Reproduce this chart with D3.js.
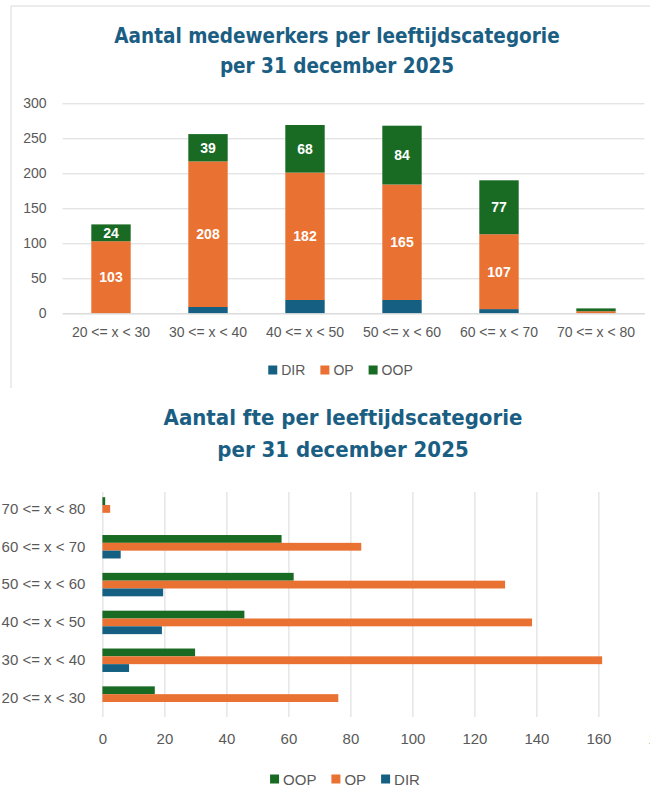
<!DOCTYPE html>
<html>
<head>
<meta charset="utf-8">
<script src="https://cdn.jsdelivr.net/npm/d3@7"></script>
<style>
  body { margin: 0; background: #fff; }
  .title { font-family: "DejaVu Sans Condensed", "DejaVu Sans", sans-serif; font-stretch: condensed; font-weight: bold; fill: #1b5e83; }
  .tick text, .lbl { font-family: "Liberation Sans", Arial, sans-serif; fill: #595959; }
  .value { font-family: "Liberation Sans", Arial, sans-serif; font-weight: bold; fill: #fff; font-size: 14px; }
</style>
</head>
<body>
<div id="container"></div>
<script>
// data
var categories = ["20 <= x < 30", "30 <= x < 40", "40 <= x < 50", "50 <= x < 60", "60 <= x < 70", "70 <= x < 80"];
var stackKeys = ["DIR", "OP", "OOP"];
var groupKeys = ["OOP", "OP", "DIR"];

// aantal medewerkers
var medewerkersDIR = [0, 9, 19, 19, 6, 0];
var medewerkersOP  = [103, 208, 182, 165, 107, 3];
var medewerkersOOP = [24, 39, 68, 84, 77, 4];

// aantal fte
var fteDIR = [0, 8.6, 19.2, 19.6, 5.9, 0];
var fteOP  = [76.1, 161.2, 138.6, 129.9, 83.5, 2.5];
var fteOOP = [16.9, 29.9, 45.8, 61.7, 57.8, 0.9];

var yTicksTop = [0, 50, 100, 150, 200, 250, 300];
var xTicksBottom = [0, 20, 40, 60, 80, 100, 120, 140, 160, 180];

var colors = { DIR: "#156082", OP: "#e97132", OOP: "#196b24" };
var gridColor = "#d9d9d9";

var svg = d3.select("#container")
  .append("svg")
    .attr("width", 650)
    .attr("height", 789);

// ---------- chart 1: stacked columns ----------
var top1 = { left: 62.5, right: 644.5, y0: 313.3, y1: 103.3 };

var rows1 = categories.map(function(c, i) {
  return { cat: c, DIR: medewerkersDIR[i], OP: medewerkersOP[i], OOP: medewerkersOOP[i] };
});

// chart border
svg.append("path")
  .attr("d", "M11,388V6H650")
  .attr("fill", "none")
  .attr("stroke", gridColor)
  .attr("stroke-width", 1);

var title1 = svg.append("text")
  .attr("class", "title")
  .attr("text-anchor", "middle")
  .style("font-size", "20.5px");
title1.append("tspan").attr("x", 337).attr("y", 43).text("Aantal medewerkers per leeftijdscategorie");
title1.append("tspan").attr("x", 337).attr("y", 73).text("per 31 december 2025");

var x1 = d3.scaleBand()
  .domain(categories)
  .range([top1.left, top1.right])
  .paddingInner(0.594)
  .paddingOuter(0.297);

var y1 = d3.scaleLinear()
  .domain([0, 300])
  .range([top1.y0, top1.y1]);

// gridlines + y labels
var yAxis1 = svg.append("g")
  .attr("transform", "translate(" + top1.left + ",0)")
  .call(d3.axisLeft(y1).tickValues(yTicksTop).tickSize(-(top1.right - top1.left)).tickPadding(16));
yAxis1.select(".domain").remove();
yAxis1.selectAll("line").attr("stroke", gridColor);
yAxis1.selectAll("text").style("font-size", "14px");

var stacked = d3.stack().keys(stackKeys)(rows1);

svg.append("g")
  .selectAll("g")
  .data(stacked)
  .enter().append("g")
    .attr("fill", function(d) { return colors[d.key]; })
  .selectAll("rect")
  .data(function(d) { return d; })
  .enter().append("rect")
    .attr("x", function(d) { return x1(d.data.cat); })
    .attr("y", function(d) { return y1(d[1]); })
    .attr("height", function(d) { return y1(d[0]) - y1(d[1]); })
    .attr("width", x1.bandwidth());

// data labels (OP and OOP only)
stacked.filter(function(s) { return s.key != "DIR"; }).forEach(function(s) {
  svg.append("g")
    .selectAll("text")
    .data(s.filter(function(d) { return d[1] - d[0] >= 10; }))
    .enter().append("text")
      .attr("class", "value")
      .attr("text-anchor", "middle")
      .attr("dominant-baseline", "central")
      .attr("x", function(d) { return x1(d.data.cat) + x1.bandwidth() / 2; })
      .attr("y", function(d) { return (y1(d[0]) + y1(d[1])) / 2; })
      .text(function(d) { return d[1] - d[0]; });
});

// x axis
var xAxis1 = svg.append("g")
  .attr("transform", "translate(0," + top1.y0 + ")")
  .call(d3.axisBottom(x1).tickSize(0).tickPadding(14));
xAxis1.select(".domain").attr("stroke", gridColor);
xAxis1.selectAll("text").style("font-size", "14px");

// legend helper
function legend(keys, cx, cy, fontSize) {
  var g = svg.append("g");
  var pos = 0;
  keys.forEach(function(k) {
    g.append("rect")
      .attr("x", pos).attr("y", cy - 4.5)
      .attr("width", 9).attr("height", 9)
      .attr("fill", colors[k]);
    var t = g.append("text")
      .attr("class", "lbl")
      .attr("x", pos + 13).attr("y", cy)
      .attr("dominant-baseline", "central")
      .style("font-size", fontSize + "px")
      .text(k);
    pos += 13 + t.node().getComputedTextLength() + 15;
  });
  pos -= 15;
  g.attr("transform", "translate(" + (cx - pos / 2) + ",0)");
}
legend(stackKeys, 340.5, 370, 14);

// ---------- chart 2: grouped horizontal bars ----------
var bot = { left: 102.4, y0: 490, y1: 717 };

var rows2 = categories.map(function(c, i) {
  return { cat: c, DIR: fteDIR[i], OP: fteOP[i], OOP: fteOOP[i] };
});

var title2 = svg.append("text")
  .attr("class", "title")
  .attr("text-anchor", "middle")
  .style("font-size", "22px");
title2.append("tspan").attr("x", 343).attr("y", 425).text("Aantal fte per leeftijdscategorie");
title2.append("tspan").attr("x", 343).attr("y", 457).text("per 31 december 2025");

var x2 = d3.scaleLinear()
  .domain([0, 180])
  .range([bot.left, bot.left + 558]);

var y2 = d3.scaleBand()
  .domain(categories.slice().reverse())
  .range([bot.y0, bot.y1])
  .paddingInner(0.38)
  .paddingOuter(0.19);

var yInner = d3.scaleBand()
  .domain(groupKeys)
  .range([0, y2.bandwidth()]);

// vertical gridlines + x labels
var xAxis2 = svg.append("g")
  .attr("transform", "translate(0," + bot.y1 + ")")
  .call(d3.axisBottom(x2).tickValues(xTicksBottom).tickSize(-(bot.y1 - bot.y0 - 2)).tickPadding(16));
xAxis2.select(".domain").remove();
xAxis2.selectAll("line").attr("stroke", gridColor);
xAxis2.selectAll("text").style("font-size", "15px");

svg.append("g")
  .selectAll("g")
  .data(rows2)
  .enter().append("g")
    .attr("transform", function(d) { return "translate(0," + y2(d.cat) + ")"; })
  .selectAll("rect")
  .data(function(d) { return groupKeys.map(function(k) { return { key: k, value: d[k] }; }); })
  .enter().append("rect")
    .attr("x", x2(0))
    .attr("y", function(d) { return yInner(d.key); })
    .attr("height", yInner.bandwidth())
    .attr("width", function(d) { return x2(d.value) - x2(0); })
    .attr("fill", function(d) { return colors[d.key]; });

// category labels
var yAxis2 = svg.append("g")
  .attr("transform", "translate(" + bot.left + ",0)")
  .call(d3.axisLeft(y2).tickSize(0).tickPadding(17));
yAxis2.select(".domain").remove();
yAxis2.selectAll("text").style("font-size", "15px");

legend(groupKeys, 345, 779, 15);
</script>
</body>
</html>
